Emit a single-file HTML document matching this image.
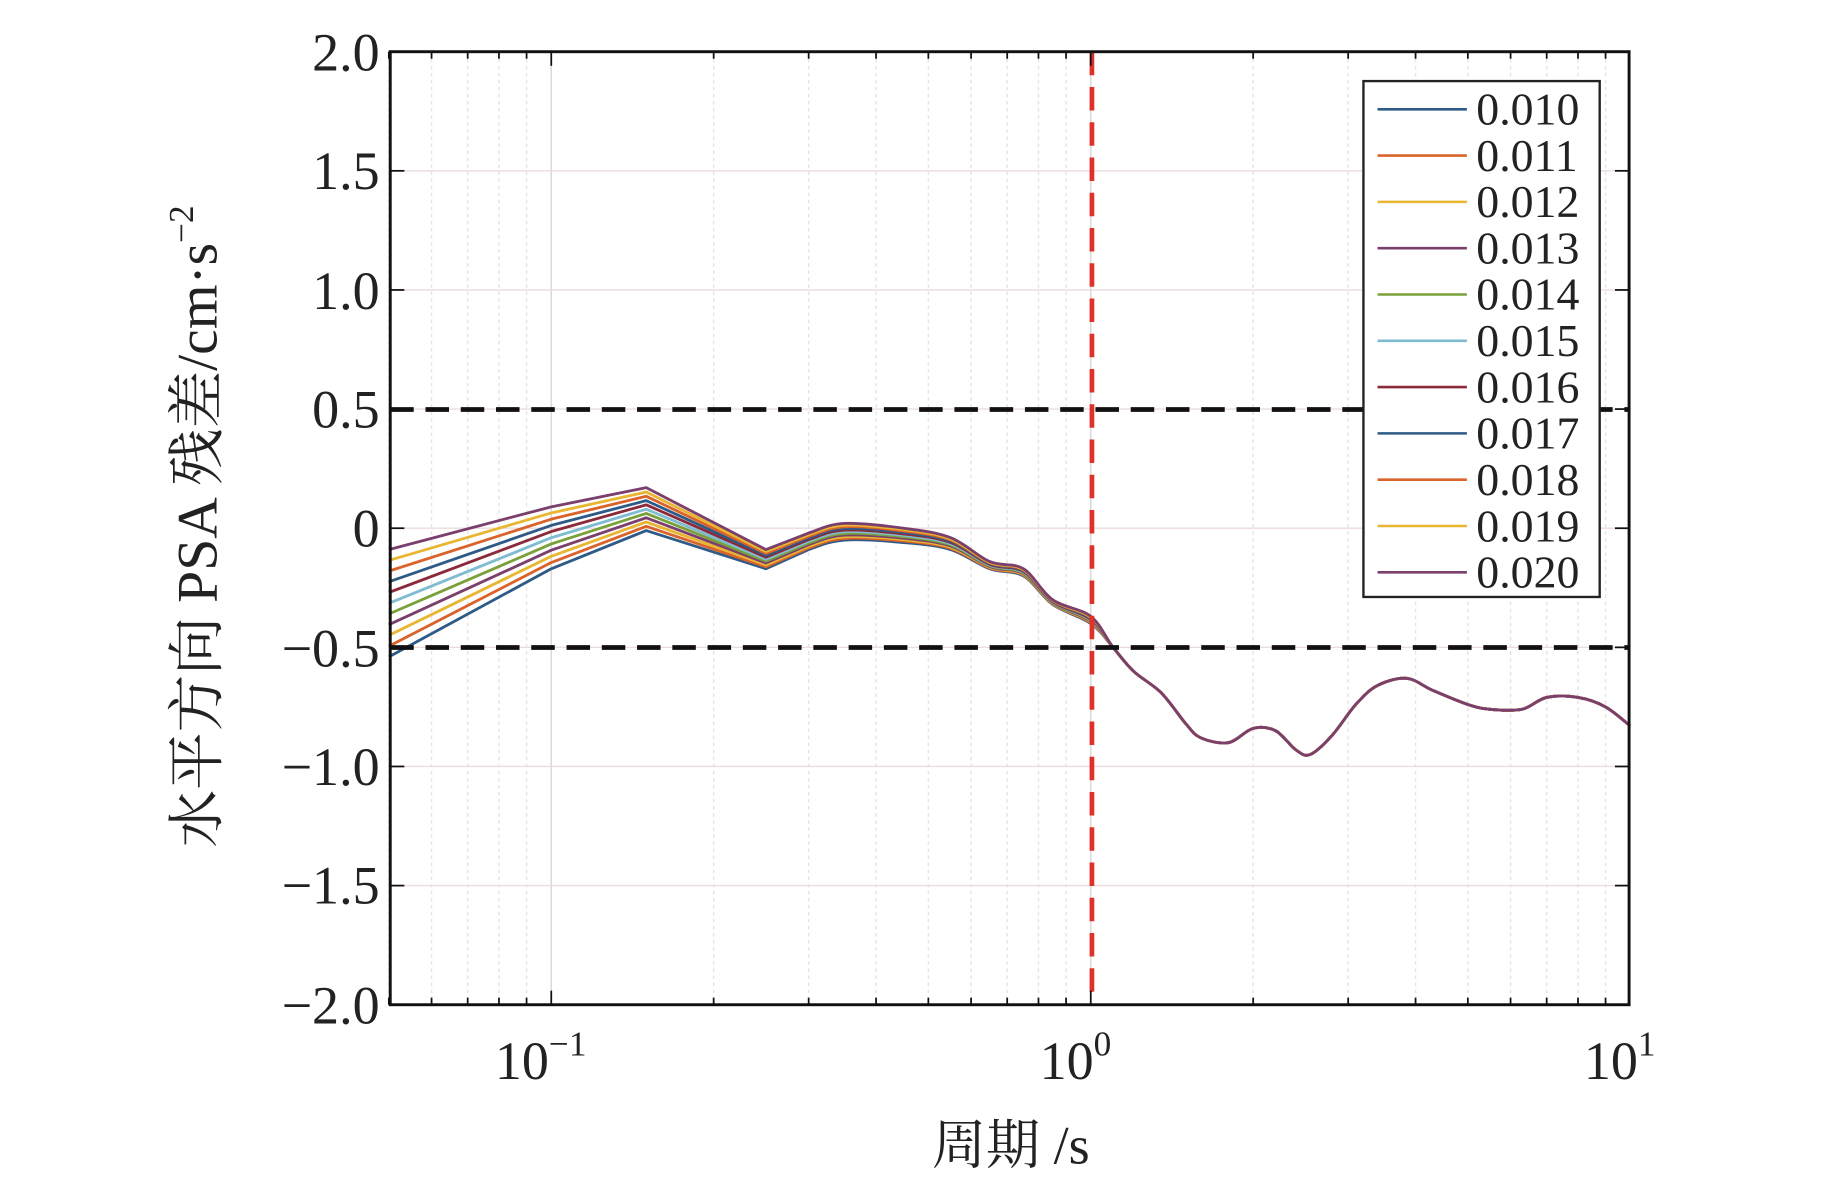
<!DOCTYPE html>
<html><head><meta charset="utf-8"><style>
html,body{margin:0;padding:0;background:#fff;}
svg{display:block;}
text{font-family:"Liberation Serif","Noto Serif CJK SC",serif;fill:#222;}
</style></head><body>
<svg id="s" width="1843" height="1181" viewBox="0 0 1568 1005" preserveAspectRatio="none" xmlns="http://www.w3.org/2000/svg">
<g id="grid"></g>
<g id="curves"></g>
<line x1="332" y1="348.5" x2="1386" y2="348.5" stroke="#111" stroke-width="4" stroke-dasharray="20,10"/>
<line x1="332" y1="551" x2="1386" y2="551" stroke="#111" stroke-width="4" stroke-dasharray="20,10"/>
<line x1="929" y1="44" x2="929" y2="855" stroke="#e0302a" stroke-width="4" stroke-dasharray="20,10"/>
<rect x="332" y="44" width="1054" height="811" fill="none" stroke="#111" stroke-width="2.5"/>
<g id="ticks"></g>
<g id="legend"></g>
<g font-size="46" text-anchor="end">
<text x="323" y="60">2.0</text><text x="323" y="161">1.5</text><text x="323" y="263">1.0</text>
<text x="323" y="364">0.5</text><text x="323" y="465">0</text><text x="323" y="567">−0.5</text>
<text x="323" y="668">−1.0</text><text x="323" y="769">−1.5</text><text x="323" y="871">−2.0</text>
</g>
<g font-size="46" text-anchor="middle">
<text x="460" y="918">10<tspan font-size="30" dy="-20">−1</tspan></text>
<text x="915" y="918">10<tspan font-size="30" dy="-20">0</tspan></text>
<text x="1378" y="918">10<tspan font-size="30" dy="-20">1</tspan></text>
<text x="860" y="990">周期 /s</text>
</g>
<text transform="translate(184,448) rotate(-90)" font-size="49" text-anchor="middle">水平方向 PSA 残差/cm·s<tspan font-size="30" dy="-20">−2</tspan></text>
</svg>
<script>
const NS="http://www.w3.org/2000/svg";
const X=t=>928+459*Math.log10(t), Y=v=>449.5-202.75*v;
function el(p,tag,a){const e=document.createElementNS(NS,tag);for(const k in a)e.setAttribute(k,a[k]);document.getElementById(p).appendChild(e);return e;}
for(let d=-2;d<=0;d++)for(let m=1;m<10;m++){const t=m*Math.pow(10,d);if(t<0.05||t>10)continue;const x=X(t);
 el("grid","line",{x1:x,y1:44,x2:x,y2:855,stroke:m==1?"#d8d8d8":"#e4e4e4","stroke-width":1.2,"stroke-dasharray":m==1?"":"3,3"});
 el("ticks","line",{x1:x,y1:855,x2:x,y2:855-(m==1?12:6),stroke:"#111","stroke-width":1.5});
 el("ticks","line",{x1:x,y1:44,x2:x,y2:44+(m==1?12:6),stroke:"#111","stroke-width":1.5});}
for(let v=-1.5;v<=1.51;v+=0.5){const y=Y(v);el("grid","line",{x1:332,y1:y,x2:1386,y2:y,stroke:"#ecdcdc","stroke-width":1.2});}
for(let v=-2;v<=2.01;v+=0.5){const y=Y(v);el("ticks","line",{x1:332,y1:y,x2:344,y2:y,stroke:"#111","stroke-width":1.5});el("ticks","line",{x1:1386,y1:y,x2:1374,y2:y,stroke:"#111","stroke-width":1.5});}
const T=[0.05,0.1,0.15,0.25,0.3,0.35,0.45,0.55,0.65,0.75,0.85,1.0];
const lo=[-0.54,-0.17,-0.01,-0.17,-0.09,-0.05,-0.06,-0.09,-0.17,-0.2,-0.32,-0.4];
const hi=[-0.09,0.09,0.17,-0.09,-0.02,0.02,0.0,-0.04,-0.14,-0.17,-0.3,-0.37];
const sh=[[1.1,-0.5],[1.2,-0.6],[1.35,-0.69],[1.5,-0.82],[1.6,-0.88],[1.8,-0.9],[2.0,-0.84],[2.2,-0.85],[2.4,-0.93],[2.55,-0.95],[2.8,-0.87],[3.1,-0.74],[3.4,-0.66],[3.85,-0.63],[4.3,-0.68],[5,-0.74],[5.5,-0.76],[6.3,-0.76],[7,-0.71],[8,-0.71],[9,-0.75],[10,-0.83]];
const C=["#2e5a87","#d9632b","#e8b631","#7b3f6e","#7aa03a","#7fbcd2","#8b2a3a","#2e5a87","#d9632b","#e8b631","#7b3f6e"];
function path(P,sharpIdx){let d="M"+P[0][0].toFixed(1)+","+P[0][1].toFixed(1);
 for(let i=0;i<P.length-1;i++){const p0=P[Math.max(i-1,0)],p1=P[i],p2=P[i+1],p3=P[Math.min(i+2,P.length-1)];
  if(i<sharpIdx){d+="L"+p2[0].toFixed(1)+","+p2[1].toFixed(1);continue;}
  const k=1/6;const c1=[p1[0]+(p2[0]-p0[0])*k,p1[1]+(p2[1]-p0[1])*k],c2=[p2[0]-(p3[0]-p1[0])*k,p2[1]-(p3[1]-p1[1])*k];
  d+="C"+c1.map(v=>v.toFixed(1)).join(",")+" "+c2.map(v=>v.toFixed(1)).join(",")+" "+p2[0].toFixed(1)+","+p2[1].toFixed(1);}
 return d;}
for(let i=0;i<11;i++){const f=i/10;let pts=T.map((t,k)=>[t,lo[k]+(hi[k]-lo[k])*f]).concat(sh).map(p=>[X(p[0]),Y(p[1])]);
 el("curves","path",{d:path(pts,4),fill:"none",stroke:C[i],"stroke-width":2.4,"stroke-linejoin":"round"});}
el("legend","rect",{x:1160,y:69,width:201,height:439,fill:"#fff",stroke:"#222","stroke-width":2});
for(let i=0;i<11;i++){const y=93+i*39.4;el("legend","line",{x1:1172,y1:y,x2:1248,y2:y,stroke:C[i],"stroke-width":2.2});
 const t=el("legend","text",{x:1256,y:y+13,"font-size":39});t.textContent=(0.010+i*0.001).toFixed(3);}
</script>
</body></html>
